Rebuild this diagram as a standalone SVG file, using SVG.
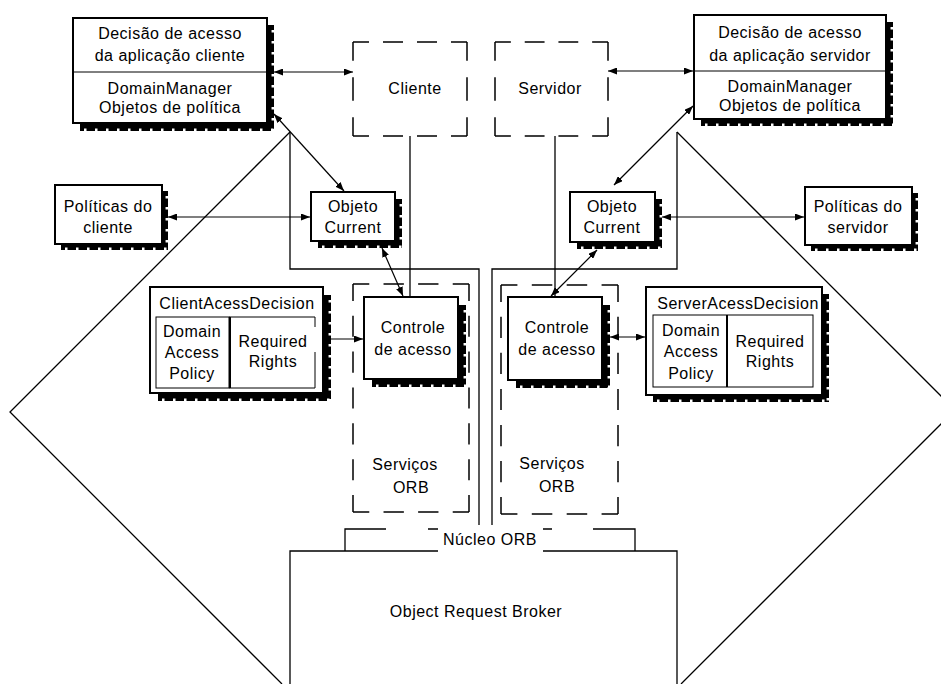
<svg xmlns="http://www.w3.org/2000/svg" width="941" height="684" viewBox="0 0 941 684">
<defs>
<marker id="ah" viewBox="0 0 9 7" refX="9" refY="3.5" markerWidth="9" markerHeight="7" markerUnits="userSpaceOnUse" orient="auto-start-reverse">
<path d="M0,0 L9,3.5 L0,7 z" fill="#000"/>
</marker>
</defs>
<style>
text{font-family:"Liberation Sans",Arial,sans-serif;font-size:16px;fill:#000;text-anchor:middle;letter-spacing:0.5px}
.box{fill:#fff;stroke:#000;stroke-width:2}
.sh{fill:#000}
.notch{fill:none;stroke:#fff;stroke-width:2.5;stroke-dasharray:2.5 8.5}
.thin{fill:none;stroke:#000;stroke-width:1}
.thick{fill:none;stroke:#000;stroke-width:2}
.frame{fill:none;stroke:#000;stroke-width:1.3}
.dash{fill:none;stroke:#000;stroke-width:1.5;stroke-dasharray:20 14;stroke-dashoffset:4}
.line{fill:none;stroke:#000;stroke-width:1.3}
.conn{fill:none;stroke:#000;stroke-width:1.2;marker-start:url(#ah);marker-end:url(#ah)}
</style>
<rect width="941" height="684" fill="#fff"/>

<g id="fronteiras">
<path class="frame" d="M290,132 L10,412 L282,684"/>
<path class="frame" d="M677,132 L955,410 L681,684"/>
<path class="frame" d="M290,132 V269 H479 V525"/>
<path class="frame" d="M677,132 V269 H492 V525"/>
</g>

<g id="cliente">
<path class="dash" pathLength="114" d="M353,42 H467"/>
<path class="dash" pathLength="80" d="M467,42 V136"/>
<path class="dash" pathLength="114" d="M467,136 H353"/>
<path class="dash" pathLength="80" d="M353,136 V42"/>
<text x="415" y="94">Cliente</text>
</g>

<g id="servidor">
<path class="dash" pathLength="114" d="M495,42 H608"/>
<path class="dash" pathLength="80" d="M608,42 V136"/>
<path class="dash" pathLength="114" d="M608,136 H495"/>
<path class="dash" pathLength="80" d="M495,136 V42"/>
<text x="550" y="94">Servidor</text>
</g>

<g id="servicos-orb-cliente">
<path class="dash" pathLength="114" d="M353,284 H469"/>
<path class="dash" pathLength="216" d="M469,284 V512"/>
<path class="dash" pathLength="114" d="M469,512 H353"/>
<path class="dash" pathLength="216" d="M353,512 V284"/>
<text x="405" y="470">Serviços</text>
<text x="411" y="493">ORB</text>
</g>

<g id="servicos-orb-servidor">
<path class="dash" pathLength="114" d="M501,285 H618"/>
<path class="dash" pathLength="216" d="M618,285 V514"/>
<path class="dash" pathLength="114" d="M618,514 H501"/>
<path class="dash" pathLength="216" d="M501,514 V285"/>
<text x="552" y="469">Serviços</text>
<text x="557" y="492">ORB</text>
</g>

<g id="nucleo-orb">
<path class="line" d="M345,551 V529 H386 M428,529 H438 M543,529 H552 M593,529 H635 V551"/>
<text x="490" y="545">Núcleo ORB</text>
</g>

<g id="object-request-broker">
<path class="line" d="M438,551 H290 V684 M543,551 H677 V684"/>
<text x="476" y="617">Object Request Broker</text>
</g>

<g id="conectores">
<path class="line" d="M410,136 V297"/>
<path class="line" d="M555,136 V297"/>
<path class="conn" d="M274,72 H353"/>
<path class="conn" d="M274,114 L344,191"/>
<path class="conn" d="M168,217 H310"/>
<path class="conn" d="M382,248 L403,296"/>
<path class="conn" d="M315,339 H363"/>
<path class="conn" d="M608,71 H693"/>
<path class="conn" d="M693,106 L614,185"/>
<path class="conn" d="M662,217 H804"/>
<path class="conn" d="M597,250 L551,296"/>
<path class="conn" d="M610,337 H645"/>
</g>

<g id="decisao-aplicacao-cliente">
<rect class="sh" x="80" y="25" width="194" height="106"/>
<path class="notch" d="M272.8,30 V131 M84,129.8 H274"/>
<rect class="box" x="73" y="18" width="194" height="105"/>
<line class="thin" x1="73" y1="72" x2="267" y2="72"/>
<text x="170" y="39">Decisão de acesso</text>
<text x="170" y="61">da aplicação cliente</text>
<text x="170" y="94">DomainManager</text>
<text x="170" y="113">Objetos de política</text>
</g>

<g id="decisao-aplicacao-servidor">
<rect class="sh" x="701" y="22" width="192" height="104"/>
<path class="notch" d="M891.8,27 V126 M705,124.8 H893"/>
<rect class="box" x="694" y="15" width="192" height="104"/>
<line class="thin" x1="694" y1="71" x2="886" y2="71"/>
<text x="790" y="38">Decisão de acesso</text>
<text x="790" y="61">da aplicação servidor</text>
<text x="790" y="92">DomainManager</text>
<text x="790" y="111">Objetos de política</text>
</g>

<g id="politicas-cliente">
<rect class="sh" x="61" y="191" width="107" height="59"/>
<path class="notch" d="M166.8,196 V250 M65,248.8 H168"/>
<rect class="box" x="55" y="185" width="107" height="59"/>
<text x="108" y="212">Políticas do</text>
<text x="108" y="233">cliente</text>
</g>

<g id="objeto-current-cliente">
<rect class="sh" x="318" y="199" width="84" height="49"/>
<path class="notch" d="M400.8,204 V248 M322,246.8 H402"/>
<rect class="box" x="311" y="192" width="84" height="49"/>
<text x="353" y="212">Objeto</text>
<text x="353" y="233">Current</text>
</g>

<g id="objeto-current-servidor">
<rect class="sh" x="577" y="199" width="85" height="50"/>
<path class="notch" d="M660.8,204 V249 M581,247.8 H662"/>
<rect class="box" x="570" y="192" width="85" height="50"/>
<text x="612" y="212">Objeto</text>
<text x="612" y="233">Current</text>
</g>

<g id="politicas-servidor">
<rect class="sh" x="811" y="193" width="107" height="58"/>
<path class="notch" d="M916.8,198 V251 M815,249.8 H918"/>
<rect class="box" x="805" y="187" width="107" height="58"/>
<text x="858" y="212">Políticas do</text>
<text x="858" y="233">servidor</text>
</g>

<g id="client-access-decision">
<rect class="sh" x="158" y="295" width="173" height="106"/>
<path class="notch" d="M329.8,300 V401 M162,399.8 H331"/>
<rect class="box" x="150" y="287" width="173" height="106"/>
<text x="237" y="309">ClientAcessDecision</text>
<rect class="thin" x="156" y="317" width="73" height="71"/>
<path class="thin" d="M229,317 H315 V327 M315,352 V388 H229"/>
<line class="thick" x1="230" y1="317" x2="230" y2="388"/>
<text x="192" y="337">Domain</text>
<text x="192" y="358">Access</text>
<text x="192" y="379">Policy</text>
<text x="273" y="347">Required</text>
<text x="273" y="367">Rights</text>
</g>

<g id="controle-acesso-cliente">
<rect class="sh" x="372" y="305" width="94" height="82"/>
<path class="notch" d="M464.8,310 V387 M376,385.8 H466"/>
<rect class="box" x="364" y="297" width="94" height="82"/>
<text x="413" y="333">Controle</text>
<text x="413" y="355">de acesso</text>
</g>

<g id="controle-acesso-servidor">
<rect class="sh" x="516" y="305" width="94" height="83"/>
<path class="notch" d="M608.8,310 V388 M520,386.8 H610"/>
<rect class="box" x="508" y="297" width="94" height="83"/>
<text x="557" y="333">Controle</text>
<text x="557" y="355">de acesso</text>
</g>

<g id="server-access-decision">
<rect class="sh" x="653" y="294" width="176" height="108"/>
<path class="notch" d="M827.8,299 V402 M657,400.8 H829"/>
<rect class="box" x="646" y="287" width="176" height="108"/>
<text x="738" y="309">ServerAcessDecision</text>
<rect class="thin" x="653" y="315" width="160" height="72"/>
<line class="thick" x1="727" y1="315" x2="727" y2="387"/>
<text x="691" y="336">Domain</text>
<text x="691" y="357">Access</text>
<text x="691" y="379">Policy</text>
<text x="770" y="347">Required</text>
<text x="770" y="367">Rights</text>
</g>
</svg>
